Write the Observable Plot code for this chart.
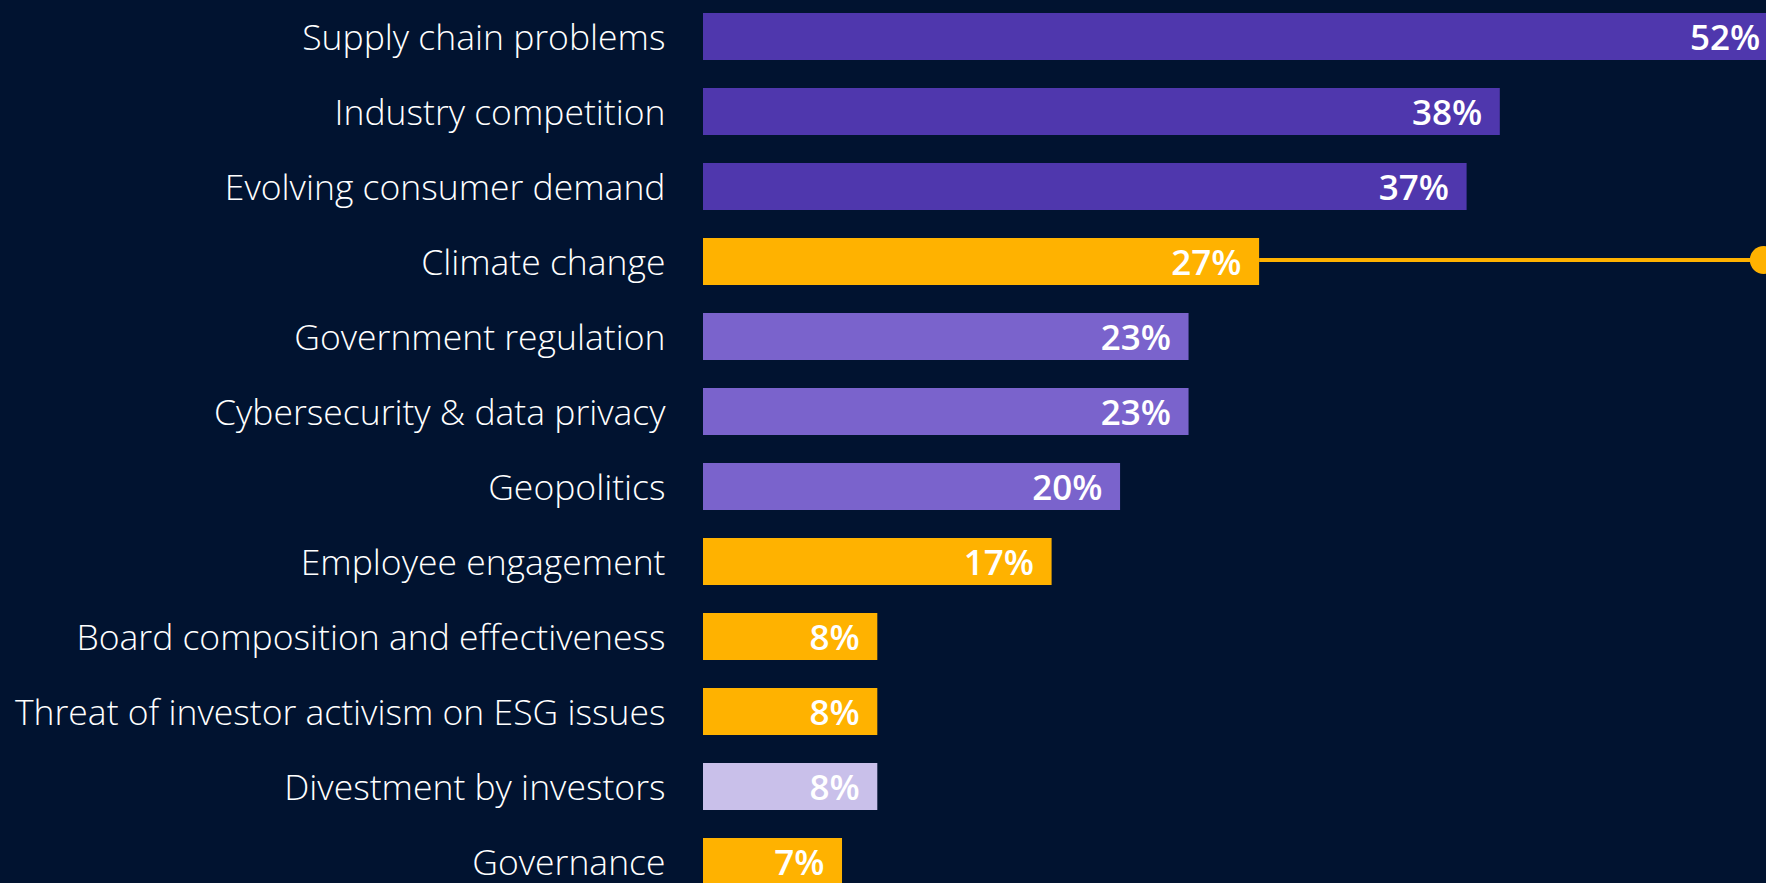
<!DOCTYPE html>
<html>
<head>
<meta charset="utf-8">
<script src="https://cdn.jsdelivr.net/npm/d3@7"></script>
<script src="https://cdn.jsdelivr.net/npm/@observablehq/plot@0.6"></script>
<style>
  html, body { margin: 0; padding: 0; overflow: hidden; background: #011330; }
  #chart svg { overflow: hidden; display: block; }
</style>
</head>
<body>
<div id="chart"></div>
<script>
// Data (share of respondents, %)
const categories = [
  "Supply chain problems",
  "Industry competition",
  "Evolving consumer demand",
  "Climate change",
  "Government regulation",
  "Cybersecurity & data privacy",
  "Geopolitics",
  "Employee engagement",
  "Board composition and effectiveness",
  "Threat of investor activism on ESG issues",
  "Divestment by investors",
  "Governance"
];
const values = [51.8, 38.4, 36.8, 26.8, 23.4, 23.4, 20.1, 16.8, 8.4, 8.4, 8.4, 6.7];
const groups = ["business", "business", "business", "esg", "external", "external", "external", "esg", "esg", "esg", "investor", "esg"];
const groupNames = ["business", "external", "investor", "esg"];
const groupColors = ["#4f37ad", "#7a63cc", "#c9c0ea", "#ffb200"];
const highlight = "Climate change";
const calloutX = 51.1; // where the callout connector ends (offscreen annotation)

const data = categories.map((c, i) => ({category: c, value: values[i], group: groups[i]}));
const hl = data.filter(d => d.category === highlight);

const W = 1766, H = 883;
const x0 = 703, pxPerPct = 20.75;

const plot = Plot.plot({
  width: W,
  height: H,
  marginTop: 0, marginBottom: 0, marginLeft: 0, marginRight: 0,
  style: {background: "#011330", color: "white", fontFamily: "'Open Sans', sans-serif"},
  x: {domain: [0, 50], range: [x0, x0 + 50 * pxPerPct], axis: null},
  y: {domain: categories, range: [10.8, 887], paddingInner: 0.3695, paddingOuter: 0, axis: null},
  color: {domain: groupNames, range: groupColors},
  marks: [
    Plot.ruleY(hl, {y: "category", x1: "value", x2: () => calloutX, stroke: "#ffb200", strokeWidth: 4, dy: -2}),
    Plot.dot(hl, {y: "category", x: () => calloutX, r: 14, fill: "#ffb200", stroke: "none", dy: -2}),
    Plot.barX(data, {y: "category", x: "value", fill: "group"}),
    Plot.text(data, {
      y: "category", x: "value", text: d => Math.round(d.value) + "%",
      textAnchor: "end", dx: -18, dy: 2, fill: "white", fontSize: 35, fontWeight: 600
    }),
    Plot.text(data, {
      y: "category", x: () => 0, text: "category",
      textAnchor: "end", dx: -38, dy: 2, fill: "white", fontSize: 35.5, fontWeight: 300
    })
  ]
});
document.getElementById("chart").appendChild(plot);
</script>
</body>
</html>
